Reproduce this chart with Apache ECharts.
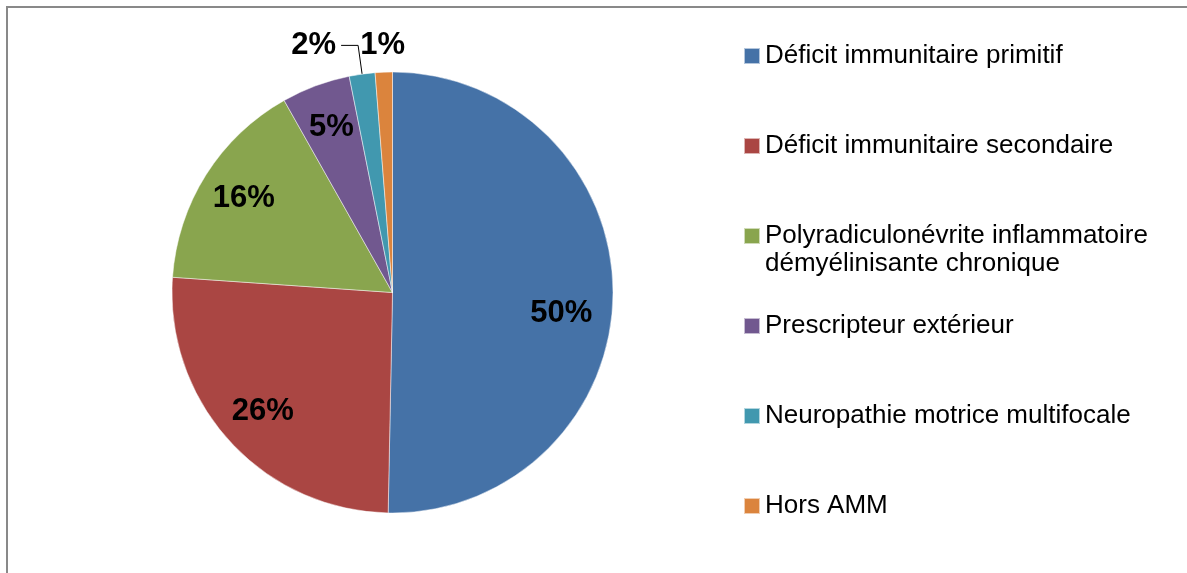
<!DOCTYPE html>
<html>
<head>
<meta charset="utf-8">
<script src="https://cdn.jsdelivr.net/npm/echarts@6/dist/echarts.min.js"></script>
<style>
  html, body { margin: 0; padding: 0; background: #fff; }
  #myChart { width: 1187px; height: 573px; }
</style>
</head>
<body>
<div id="myChart"></div>
<script>
// categories (legend order = slice order, clockwise from the top)
var categories = [
  'Déficit immunitaire primitif',
  'Déficit immunitaire secondaire',
  'Polyradiculonévrite inflammatoire\ndémyélinisante chronique',
  'Prescripteur extérieur',
  'Neuropathie motrice multifocale',
  'Hors AMM'
];
// patient counts (labels show rounded %)
var counts = [80, 41, 25, 8, 3, 2];
var colors = ['#4572A7', '#AA4643', '#89A54E', '#71588F', '#4198AF', '#DB843D'];

var FONT = 'Arial, "Liberation Sans", sans-serif';
var CENTER = [392.5, 292.5];
var R = 220.5;

var pctLabel = function (p) { return Math.round(p.percent) + '%'; };
var labelFont = { color: '#000', fontFamily: FONT, fontSize: 31, fontWeight: 'bold' };

var myChart = echarts.init(document.getElementById('myChart'));

// main slices; only the small teal one gets its label outside with a leader line
var mainData = categories.map(function (name, i) {
  var item = { name: name, value: counts[i], itemStyle: { color: colors[i] } };
  if (i === 4) {
    item.label = Object.assign({ show: true, position: 'outside', formatter: pctLabel }, labelFont);
    item.labelLine = { show: true, length: 29, length2: 17, smooth: false,
      lineStyle: { color: '#000', width: 1 } };
  }
  return item;
});

// transparent ring used only to carry the inside labels further out (Excel style)
var innerLabelData = categories.map(function (name, i) {
  var item = { name: name, value: counts[i], label: { show: i < 4 } };
  if (i === 0) item.label.offset = [-7, 19]; // Excel drops the big label a bit
  return item;
});
// transparent ring just outside the pie for the orange "1%" label
var outerLabelData = categories.map(function (name, i) {
  return { name: name, value: counts[i], label: { show: i === 5 } };
});

// rich text so the padding really shifts the lines: marker sits on the first line
var legendData = categories.map(function (name) {
  var twoLines = name.indexOf('\n') >= 0;
  return { name: name, textStyle: { padding: twoLines ? [28, 0, 0, 0] : [28, 0, 28, 0] } };
});

var option = {
  animation: false,
  graphic: [{
    type: 'rect',
    shape: { x: 7, y: 7, width: 1400, height: 900 },
    style: { fill: 'none', stroke: '#898989', lineWidth: 2 },
    silent: true
  }],
  legend: {
    orient: 'vertical',
    left: 743,
    top: 14,
    padding: 0,
    itemGap: 6,
    itemWidth: 16,
    itemHeight: 16,
    icon: 'rect',
    selectedMode: false,
    data: legendData,
    formatter: function (name) {
      return name.split('\n').map(function (l) { return '{t|' + l + '}'; }).join('\n');
    },
    textStyle: {
      color: '#000', fontFamily: FONT, fontSize: 26, lineHeight: 28,
      rich: { t: { color: '#000', fontFamily: FONT, fontSize: 26, lineHeight: 28 } }
    }
  },
  series: [
    {
      name: 'main',
      type: 'pie',
      center: CENTER,
      radius: [0, R],
      startAngle: 90,
      clockwise: true,
      avoidLabelOverlap: false,
      itemStyle: { borderColor: 'rgba(255,255,255,0.6)', borderWidth: 0.8 },
      label: { show: false },
      labelLine: { show: false },
      emphasis: { disabled: true },
      data: mainData
    },
    {
      name: 'labelsInside',
      type: 'pie',
      center: CENTER,
      radius: [125, R],
      startAngle: 90,
      silent: true,
      avoidLabelOverlap: false,
      itemStyle: { color: 'rgba(0,0,0,0)' },
      label: Object.assign({ position: 'inside', formatter: pctLabel }, labelFont),
      labelLine: { show: false },
      emphasis: { disabled: true },
      data: innerLabelData
    },
    {
      name: 'labelsOuter',
      type: 'pie',
      center: CENTER,
      radius: [226, 262],
      startAngle: 90,
      silent: true,
      avoidLabelOverlap: false,
      itemStyle: { color: 'rgba(0,0,0,0)' },
      label: Object.assign({ position: 'inside', formatter: pctLabel }, labelFont),
      labelLine: { show: false },
      emphasis: { disabled: true },
      data: outerLabelData
    }
  ]
};

window.onresize = myChart.resize;
myChart.setOption(option);
</script>
</body>
</html>
